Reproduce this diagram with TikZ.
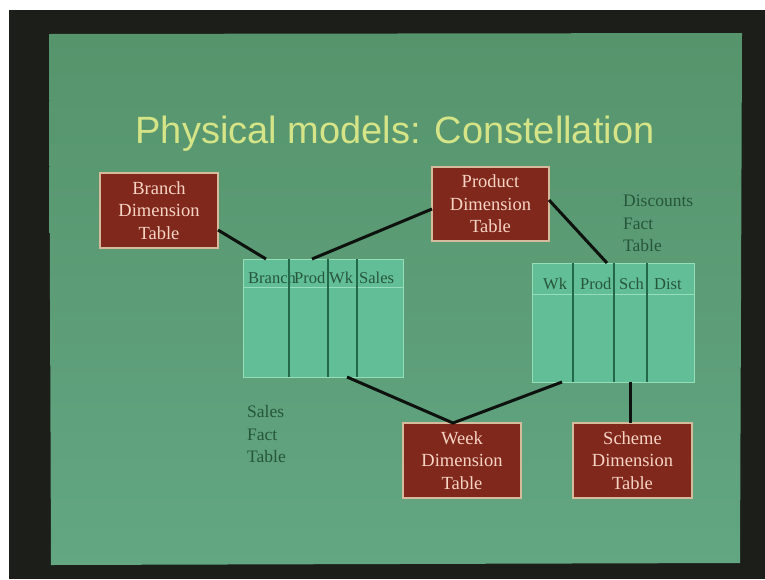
\documentclass[tikz,border=0pt]{standalone}
\usepackage{fontspec}
\setmainfont{Liberation Serif}
\newfontfamily\titlefont{Liberation Sans}
\definecolor{framecol}{RGB}{28,30,25}
\definecolor{slidetop}{RGB}{86,148,108}
\definecolor{slidebot}{RGB}{98,166,130}
\definecolor{boxred}{RGB}{128,40,28}
\definecolor{boxedge}{RGB}{214,186,156}
\definecolor{boxtext}{RGB}{246,212,196}
\definecolor{tablefill}{RGB}{98,190,150}
\definecolor{tableedge}{RGB}{150,222,186}
\definecolor{divider}{RGB}{36,104,74}
\definecolor{labelcol}{RGB}{38,86,58}
\definecolor{titlecol}{RGB}{212,228,134}
\definecolor{linkcol}{RGB}{14,18,14}
\begin{document}
\begin{tikzpicture}[x=1pt,y=-1pt,
  dimbox/.style={draw=boxedge, line width=1.2pt, fill=boxred, text=boxtext,
    font=\fontsize{18.5}{22.5}\selectfont, align=center,
    minimum width=118, minimum height=75, inner sep=0pt},
  facttable/.style={draw=tableedge, line width=1pt, fill=tablefill, inner sep=0pt},
  colline/.style={draw=divider, line width=1.3pt},
  headline/.style={draw=tableedge, line width=0.9pt},
  headtext/.style={anchor=base west, inner sep=0pt, text=labelcol,
    font=\fontsize{16.5}{18}\selectfont},
  sidelabel/.style={anchor=west, inner sep=0pt, align=left, text=labelcol,
    font=\fontsize{17.5}{22.5}\selectfont},
  link/.style={draw=linkcol, line width=3pt}]
  \useasboundingbox (0,0) rectangle (765,579);
  % monitor frame and slide
  \fill[white] (0,0) rectangle (765,579);
  \fill[framecol] (9,10) rectangle (765,579);
  \shade[top color=slidetop, bottom color=slidebot]
    (49,34) -- (742,33) -- (740,563) -- (51,565) -- cycle;

  % title
  \node[text=titlecol, font=\titlefont\fontsize{38}{40}\selectfont, anchor=base, inner sep=0pt]
    (title) at (395,143) {Physical models: Constellation};

  % dimension tables
  \node[dimbox] (branch)  at (159,210.5) {Branch\\Dimension\\Table};
  \node[dimbox, minimum width=117, minimum height=74] (product) at (490.5,204) {Product\\Dimension\\Table};
  \node[dimbox] (week)    at (462,460.5) {Week\\Dimension\\Table};
  \node[dimbox, minimum width=119] (scheme)  at (632.5,460.5) {Scheme\\Dimension\\Table};

  % sales fact table
  \node[facttable, minimum width=160, minimum height=118] (sales) at (323,318) {};
  \draw[headline] (243,287) -- (403,287);
  \node[headtext] (sBr) at (248,283) {Branch};
  \node[headtext] (sPr) at (294,283) {Prod};
  \node[headtext] (sWk) at (329,283) {Wk};
  \node[headtext] (sSa) at (359,283) {Sales};
  \draw[colline] (289,259) -- (289,377);
  \draw[colline] (328,259) -- (328,377);
  \draw[colline] (357,259) -- (357,377);

  % discounts fact table
  \node[facttable, minimum width=162, minimum height=119] (disc) at (613,322.5) {};
  \draw[headline] (532,294) -- (694,294);
  \node[headtext] (dWk) at (543,289) {Wk};
  \node[headtext] (dPr) at (580,289) {Prod};
  \node[headtext] (dSc) at (619,289) {Sch};
  \node[headtext] (dDi) at (654,289) {Dist};
  \draw[colline] (573,263) -- (573,382);
  \draw[colline] (614,263) -- (614,382);
  \draw[colline] (647,263) -- (647,382);

  % table captions
  \node[sidelabel] (salescap) at (247,434.5) {Sales\\Fact\\Table};
  \node[sidelabel] (disccap)  at (623,223.5) {Discounts\\Fact\\Table};

  % connector ends on the tables
  \coordinate (salesBr) at (266,259);
  \coordinate (salesPr) at (312,259);
  \coordinate (salesWk) at (347,377);
  \coordinate (discPr)  at (607,263);
  \coordinate (discWk)  at (562,382);
  \coordinate (discSc)  at (630,382);
  \coordinate (branchR) at (218,230);
  \coordinate (productL) at (432,209);
  \coordinate (productR) at (549,200);
  \coordinate (weekT)   at (453,423);
  \coordinate (schemeT) at (630,423);

  % joins between dimensions and facts
  \draw[link] (branchR) -- (salesBr);
  \draw[link] (productL) -- (salesPr);
  \draw[link] (productR) -- (discPr);
  \draw[link] (salesWk) -- (weekT) -- (discWk);
  \draw[link] (discSc) -- (schemeT);
\end{tikzpicture}
\end{document}
